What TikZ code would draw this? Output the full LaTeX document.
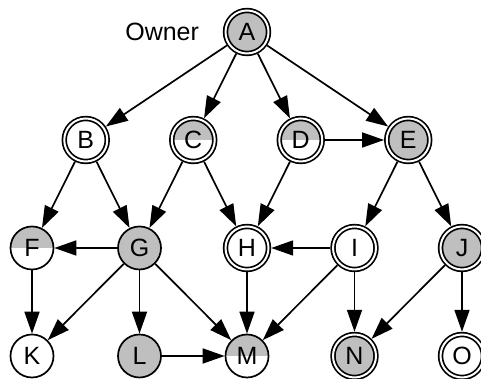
\documentclass[tikz,border=0pt]{standalone}
\usepackage{fontspec}
\setmainfont{Liberation Sans}
\usetikzlibrary{arrows.meta, positioning}
\tikzset{every picture/.style={x=53.75pt,y=54pt,line width=0.85pt,>={Triangle[length=11pt,width=7.5pt]},every node/.style={circle, draw=black, minimum size=21.5pt, inner sep=0pt, font=\fontsize{12.5}{15}\selectfont}}}
\tikzset{
  full/.style={fill=gray!50},
  half/.style={path picture={\fill[gray!50] (path picture bounding box.west) rectangle (path picture bounding box.north east);}},
  dbl/.style={double, double distance=1pt, outer sep=1.35pt},
  ownerlbl/.style={rectangle, draw=none, minimum size=0pt}
}
\begin{document}
\begin{tikzpicture}
        \useasboundingbox (-0.2977, -0.213) rectangle (4.1767, 3.2963);
        \node[dbl, full] (nA) at (2, 3) {A};
        \node[dbl] (nB) at (0.5, 2) {B};
        \node[dbl, half] (nC) at (1.5, 2) {C};
        \node[dbl, half] (nD) at (2.5, 2) {D};
        \node[dbl, full] (nE) at (3.5, 2) {E};
        \node[half] (nF) at (0, 1) {F};
        \node[full] (nG) at (1, 1) {G};
        \node[dbl] (nH) at (2, 1) {H};
        \node[dbl] (nI) at (3, 1) {I};
        \node[dbl, full] (nJ) at (4, 1) {J};
        \node[] (nK) at (0, 0) {K};
        \node[full] (nL) at (1, 0) {L};
        \node[half] (nM) at (2, 0) {M};
        \node[dbl, full] (nN) at (3, 0) {N};
        \node[dbl] (nO) at (4, 0) {O};
        \node[ownerlbl, left=11.5pt of nA] (owner) {Owner};

        \foreach \from/\to in {
          nA/nB, nA/nC, nA/nD, nA/nE,
          nB/nF, nB/nG,
          nC/nG, nC/nH,
          nD/nH, nD/nE,
          nE/nI, nE/nJ,
          nG/nF, nG/nK, nG/nL, nG/nM,
          nF/nK,
          nH/nM,
          nI/nH, nI/nM, nI/nN,
          nJ/nN, nJ/nO,
          nL/nM}
        \draw[->] (\from) -- (\to);
      \end{tikzpicture}
\end{document}
